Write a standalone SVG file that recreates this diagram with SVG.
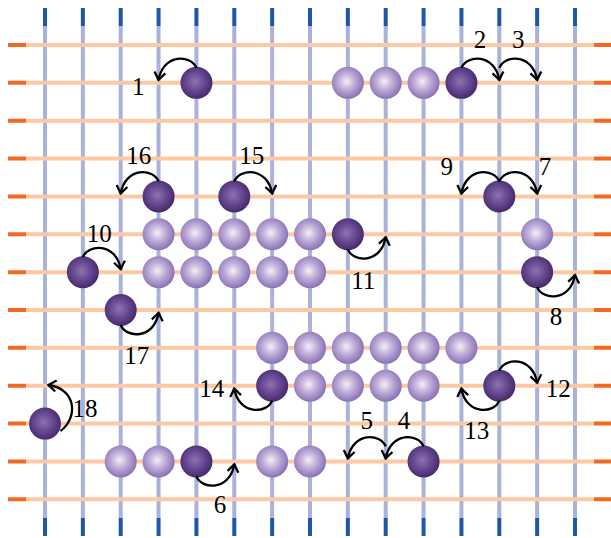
<svg xmlns="http://www.w3.org/2000/svg" width="611" height="538" viewBox="0 0 611 538">
<style>
.vl{stroke:#aab2da;stroke-width:4}
.vt{stroke:#1d58a8;stroke-width:4}
.hl{stroke:#fdc8a2;stroke-width:4}
.ht{stroke:#f26a21;stroke-width:4}
.lt{fill:url(#gl)}
.dk{fill:url(#gd)}
.ar{fill:none;stroke:#000;stroke-width:2.3;marker-end:url(#ah)}
.lb{font-family:"Liberation Serif","Times New Roman",serif;font-size:25px;text-anchor:middle;fill:#000}
</style>
<defs>
<radialGradient id="gl" cx="0.46" cy="0.46" r="0.56">
<stop offset="0" stop-color="#f6eef7"/>
<stop offset="0.45" stop-color="#c0aed9"/>
<stop offset="1" stop-color="#866eb3"/>
</radialGradient>
<radialGradient id="gd" cx="0.46" cy="0.46" r="0.56">
<stop offset="0" stop-color="#8e73b0"/>
<stop offset="0.5" stop-color="#674a92"/>
<stop offset="1" stop-color="#44286a"/>
</radialGradient>
<marker id="ah" markerWidth="16" markerHeight="16" viewBox="-12 -8 16 16" refX="0" refY="0" orient="auto" markerUnits="userSpaceOnUse">
<path d="M-7.5,-5.5 L0,0 L-7.5,5.5" fill="none" stroke="#000" stroke-width="2.3"/>
</marker>
</defs>
<g id="grid">
<g id="verticals">
<line class="vl" x1="45" y1="26" x2="45" y2="518"/>
<line class="vl" x1="82.86" y1="26" x2="82.86" y2="518"/>
<line class="vl" x1="120.71" y1="26" x2="120.71" y2="518"/>
<line class="vl" x1="158.57" y1="26" x2="158.57" y2="518"/>
<line class="vl" x1="196.43" y1="26" x2="196.43" y2="518"/>
<line class="vl" x1="234.29" y1="26" x2="234.29" y2="518"/>
<line class="vl" x1="272.14" y1="26" x2="272.14" y2="518"/>
<line class="vl" x1="310" y1="26" x2="310" y2="518"/>
<line class="vl" x1="347.86" y1="26" x2="347.86" y2="518"/>
<line class="vl" x1="385.71" y1="26" x2="385.71" y2="518"/>
<line class="vl" x1="423.57" y1="26" x2="423.57" y2="518"/>
<line class="vl" x1="461.43" y1="26" x2="461.43" y2="518"/>
<line class="vl" x1="499.29" y1="26" x2="499.29" y2="518"/>
<line class="vl" x1="537.14" y1="26" x2="537.14" y2="518"/>
<line class="vl" x1="575" y1="26" x2="575" y2="518"/>
<path class="vt" d="M45,8V26M82.86,8V26M120.71,8V26M158.57,8V26M196.43,8V26M234.29,8V26M272.14,8V26M310,8V26M347.86,8V26M385.71,8V26M423.57,8V26M461.43,8V26M499.29,8V26M537.14,8V26M575,8V26"/>
<path class="vt" d="M45,518V536M82.86,518V536M120.71,518V536M158.57,518V536M196.43,518V536M234.29,518V536M272.14,518V536M310,518V536M347.86,518V536M385.71,518V536M423.57,518V536M461.43,518V536M499.29,518V536M537.14,518V536M575,518V536"/>
</g>
<g id="horizontals">
<line class="hl" x1="26" y1="45" x2="594" y2="45"/>
<line class="hl" x1="26" y1="82.86" x2="594" y2="82.86"/>
<line class="hl" x1="26" y1="120.71" x2="594" y2="120.71"/>
<line class="hl" x1="26" y1="158.57" x2="594" y2="158.57"/>
<line class="hl" x1="26" y1="196.43" x2="594" y2="196.43"/>
<line class="hl" x1="26" y1="234.29" x2="594" y2="234.29"/>
<line class="hl" x1="26" y1="272.14" x2="594" y2="272.14"/>
<line class="hl" x1="26" y1="310" x2="594" y2="310"/>
<line class="hl" x1="26" y1="347.86" x2="594" y2="347.86"/>
<line class="hl" x1="26" y1="385.71" x2="594" y2="385.71"/>
<line class="hl" x1="26" y1="423.57" x2="594" y2="423.57"/>
<line class="hl" x1="26" y1="461.43" x2="594" y2="461.43"/>
<line class="hl" x1="26" y1="499.29" x2="594" y2="499.29"/>
<path class="ht" d="M8,45H26M8,82.86H26M8,120.71H26M8,158.57H26M8,196.43H26M8,234.29H26M8,272.14H26M8,310H26M8,347.86H26M8,385.71H26M8,423.57H26M8,461.43H26M8,499.29H26"/>
<path class="ht" d="M594,45H612M594,82.86H612M594,120.71H612M594,158.57H612M594,196.43H612M594,234.29H612M594,272.14H612M594,310H612M594,347.86H612M594,385.71H612M594,423.57H612M594,461.43H612M594,499.29H612"/>
</g>
</g>
<g id="nodes">
<g id="n-r1-c4"><circle class="dk" cx="196.43" cy="82.86" r="16"/></g>
<g id="n-r1-c8"><circle class="lt" cx="347.86" cy="82.86" r="16"/></g>
<g id="n-r1-c9"><circle class="lt" cx="385.71" cy="82.86" r="16"/></g>
<g id="n-r1-c10"><circle class="lt" cx="423.57" cy="82.86" r="16"/></g>
<g id="n-r1-c11"><circle class="dk" cx="461.43" cy="82.86" r="16"/></g>
<g id="n-r4-c3"><circle class="dk" cx="158.57" cy="196.43" r="16"/></g>
<g id="n-r4-c5"><circle class="dk" cx="234.29" cy="196.43" r="16"/></g>
<g id="n-r4-c12"><circle class="dk" cx="499.29" cy="196.43" r="16"/></g>
<g id="n-r5-c3"><circle class="lt" cx="158.57" cy="234.29" r="16"/></g>
<g id="n-r5-c4"><circle class="lt" cx="196.43" cy="234.29" r="16"/></g>
<g id="n-r5-c5"><circle class="lt" cx="234.29" cy="234.29" r="16"/></g>
<g id="n-r5-c6"><circle class="lt" cx="272.14" cy="234.29" r="16"/></g>
<g id="n-r5-c7"><circle class="lt" cx="310" cy="234.29" r="16"/></g>
<g id="n-r5-c8"><circle class="dk" cx="347.86" cy="234.29" r="16"/></g>
<g id="n-r5-c13"><circle class="lt" cx="537.14" cy="234.29" r="16"/></g>
<g id="n-r6-c1"><circle class="dk" cx="82.86" cy="272.14" r="16"/></g>
<g id="n-r6-c3"><circle class="lt" cx="158.57" cy="272.14" r="16"/></g>
<g id="n-r6-c4"><circle class="lt" cx="196.43" cy="272.14" r="16"/></g>
<g id="n-r6-c5"><circle class="lt" cx="234.29" cy="272.14" r="16"/></g>
<g id="n-r6-c6"><circle class="lt" cx="272.14" cy="272.14" r="16"/></g>
<g id="n-r6-c7"><circle class="lt" cx="310" cy="272.14" r="16"/></g>
<g id="n-r6-c13"><circle class="dk" cx="537.14" cy="272.14" r="16"/></g>
<g id="n-r7-c2"><circle class="dk" cx="120.71" cy="310" r="16"/></g>
<g id="n-r8-c6"><circle class="lt" cx="272.14" cy="347.86" r="16"/></g>
<g id="n-r8-c7"><circle class="lt" cx="310" cy="347.86" r="16"/></g>
<g id="n-r8-c8"><circle class="lt" cx="347.86" cy="347.86" r="16"/></g>
<g id="n-r8-c9"><circle class="lt" cx="385.71" cy="347.86" r="16"/></g>
<g id="n-r8-c10"><circle class="lt" cx="423.57" cy="347.86" r="16"/></g>
<g id="n-r8-c11"><circle class="lt" cx="461.43" cy="347.86" r="16"/></g>
<g id="n-r9-c6"><circle class="dk" cx="272.14" cy="385.71" r="16"/></g>
<g id="n-r9-c7"><circle class="lt" cx="310" cy="385.71" r="16"/></g>
<g id="n-r9-c8"><circle class="lt" cx="347.86" cy="385.71" r="16"/></g>
<g id="n-r9-c9"><circle class="lt" cx="385.71" cy="385.71" r="16"/></g>
<g id="n-r9-c10"><circle class="lt" cx="423.57" cy="385.71" r="16"/></g>
<g id="n-r9-c12"><circle class="dk" cx="499.29" cy="385.71" r="16"/></g>
<g id="n-r10-c0"><circle class="dk" cx="45" cy="423.57" r="16"/></g>
<g id="n-r11-c2"><circle class="lt" cx="120.71" cy="461.43" r="16"/></g>
<g id="n-r11-c3"><circle class="lt" cx="158.57" cy="461.43" r="16"/></g>
<g id="n-r11-c4"><circle class="dk" cx="196.43" cy="461.43" r="16"/></g>
<g id="n-r11-c6"><circle class="lt" cx="272.14" cy="461.43" r="16"/></g>
<g id="n-r11-c7"><circle class="lt" cx="310" cy="461.43" r="16"/></g>
<g id="n-r11-c10"><circle class="dk" cx="423.57" cy="461.43" r="16"/></g>
</g>
<g id="connectors">
<g id="a1"><path class="ar" d="M196.43,67.86 C191.43,54.86 163.43,52.86 158.57,79.86"/><text class="lb" x="138.3" y="95">1</text></g>
<g id="a2"><path class="ar" d="M461.43,67.86 C466.43,54.86 494.43,52.86 499.29,79.86"/><text class="lb" x="480" y="48">2</text></g>
<g id="a3"><path class="ar" d="M499.29,67.86 C504.29,54.86 532.29,52.86 537.14,79.86"/><text class="lb" x="518.3" y="48">3</text></g>
<g id="a4"><path class="ar" d="M423.57,446.43 C418.57,433.43 390.57,431.43 385.71,458.43"/><text class="lb" x="404" y="429.3">4</text></g>
<g id="a5"><path class="ar" d="M385.71,446.43 C380.71,433.43 352.71,431.43 347.86,458.43"/><text class="lb" x="366.7" y="429.3">5</text></g>
<g id="a6"><path class="ar" d="M196.43,476.43 C201.43,489.43 229.43,491.43 234.29,464.43"/><text class="lb" x="220" y="513.3">6</text></g>
<g id="a7"><path class="ar" d="M499.29,181.43 C504.29,168.43 532.29,166.43 537.14,193.43"/><text class="lb" x="545" y="175">7</text></g>
<g id="a8"><path class="ar" d="M537.14,287.14 C542.14,300.14 570.14,302.14 575,275.14"/><text class="lb" x="556" y="325">8</text></g>
<g id="a9"><path class="ar" d="M499.29,181.43 C494.29,168.43 466.29,166.43 461.43,193.43"/><text class="lb" x="446.7" y="175">9</text></g>
<g id="a10"><path class="ar" d="M82.86,257.14 C87.86,244.14 115.86,242.14 120.71,269.14"/><text class="lb" x="99.3" y="241.7">10</text></g>
<g id="a11"><path class="ar" d="M347.86,249.29 C352.86,262.29 380.86,264.29 385.71,237.29"/><text class="lb" x="363.3" y="289.3">11</text></g>
<g id="a12"><path class="ar" d="M499.29,370.71 C504.29,357.71 532.29,355.71 537.14,382.71"/><text class="lb" x="558.3" y="397.3">12</text></g>
<g id="a13"><path class="ar" d="M499.29,400.71 C494.29,413.71 466.29,415.71 461.43,388.71"/><text class="lb" x="476.7" y="439.3">13</text></g>
<g id="a14"><path class="ar" d="M272.14,400.71 C267.14,413.71 239.14,415.71 234.29,388.71"/><text class="lb" x="211.7" y="396.7">14</text></g>
<g id="a15"><path class="ar" d="M234.29,181.43 C239.29,168.43 267.29,166.43 272.14,193.43"/><text class="lb" x="251.7" y="164.3">15</text></g>
<g id="a16"><path class="ar" d="M158.57,181.43 C153.57,168.43 125.57,166.43 120.71,193.43"/><text class="lb" x="138.7" y="164.3">16</text></g>
<g id="a17"><path class="ar" d="M120.71,325 C125.71,338 153.71,340 158.57,313"/><text class="lb" x="136.7" y="364">17</text></g>
<g id="a18"><path class="ar" d="M60.5,431 C78,418 77,389 48.5,385"/><text class="lb" x="85" y="416.7">18</text></g>
</g>
</svg>
